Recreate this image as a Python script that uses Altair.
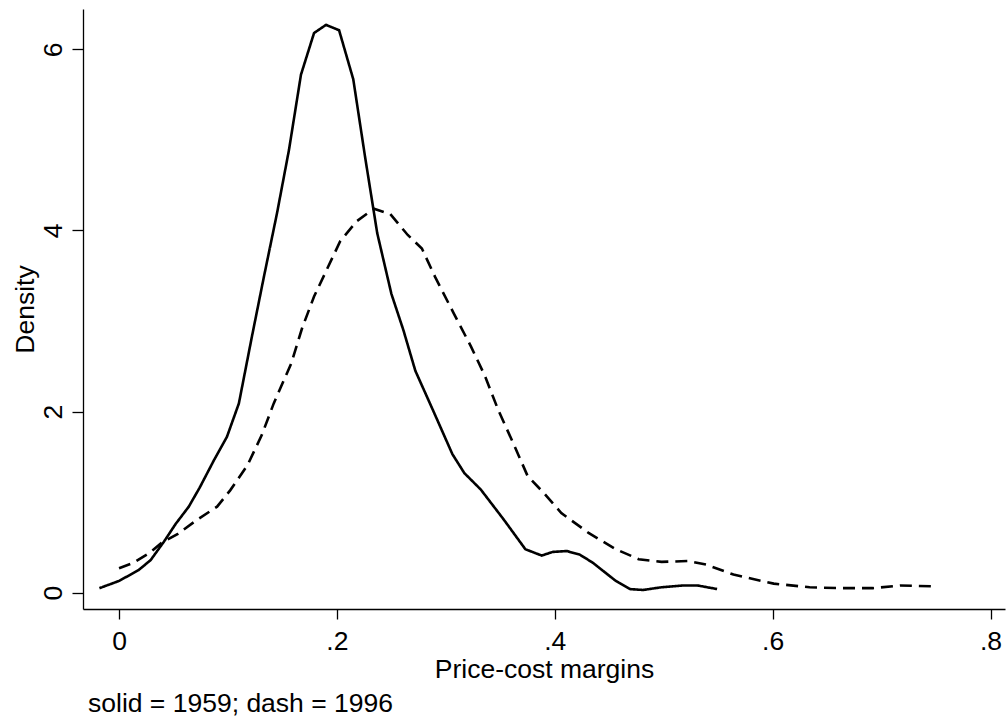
import altair as alt
import pandas as pd

# ---- data ----
x_1959 = [-0.018, 0.0, 0.018, 0.029, 0.041, 0.052, 0.064, 0.074, 0.087, 0.099, 0.110,
          0.122, 0.133, 0.145, 0.156, 0.167, 0.179, 0.190, 0.202, 0.215, 0.226, 0.237,
          0.250, 0.261, 0.272, 0.288, 0.306, 0.317, 0.332, 0.353, 0.373, 0.388, 0.398,
          0.411, 0.423, 0.435, 0.456, 0.469, 0.481, 0.498, 0.518, 0.531, 0.549]
y_1959 = [0.05, 0.13, 0.25, 0.36, 0.56, 0.76, 0.95, 1.16, 1.46, 1.72, 2.09,
          2.83, 3.49, 4.19, 4.89, 5.72, 6.18, 6.27, 6.21, 5.67, 4.80, 3.97,
          3.30, 2.90, 2.45, 2.02, 1.53, 1.32, 1.14, 0.81, 0.48, 0.41, 0.45,
          0.46, 0.42, 0.33, 0.13, 0.04, 0.03, 0.06, 0.08, 0.08, 0.04]

x_1996 = [0.0, 0.013, 0.028, 0.039, 0.054, 0.071, 0.090, 0.102, 0.118, 0.131, 0.142,
          0.158, 0.168, 0.179, 0.190, 0.203, 0.218, 0.234, 0.249, 0.265, 0.278, 0.290,
          0.307, 0.323, 0.336, 0.348, 0.363, 0.375, 0.390, 0.406, 0.431, 0.456, 0.477,
          0.498, 0.522, 0.539, 0.564, 0.601, 0.634, 0.663, 0.692, 0.717, 0.750]
y_1996 = [0.27, 0.33, 0.44, 0.55, 0.65, 0.80, 0.95, 1.13, 1.41, 1.74, 2.09,
          2.53, 2.92, 3.27, 3.55, 3.88, 4.10, 4.24, 4.18, 3.95, 3.80, 3.49,
          3.09, 2.72, 2.39, 2.02, 1.62, 1.29, 1.10, 0.88, 0.66, 0.48, 0.37,
          0.34, 0.35, 0.31, 0.20, 0.10, 0.06, 0.05, 0.05, 0.08, 0.07]

series_names = ["1959", "1996"]
x_tick_values = [0, 0.2, 0.4, 0.6, 0.8]
x_tick_labels = ["0", ".2", ".4", ".6", ".8"]
y_tick_values = [0, 2, 4, 6]
y_tick_labels = ["0", "2", "4", "6"]
x_title = "Price-cost margins"
y_title = "Density"
note_text = ["solid = 1959; dash = 1996"]

FONT = "Liberation Sans"
FS = 26.5

rows = []
for i, (xs, ys) in enumerate([(x_1959, y_1959), (x_1996, y_1996)]):
    for j, (a, b) in enumerate(zip(xs, ys)):
        rows.append({"x": a, "y": b, "series": series_names[i], "order": j})
df = pd.DataFrame(rows)


def label_expr(values, labels):
    parts = [f"datum.value == {v} ? '{l}'" for v, l in zip(values, labels)]
    return " : ".join(parts) + " : ''"


x_axis = alt.Axis(
    values=x_tick_values, labelExpr=label_expr(x_tick_values, x_tick_labels),
    title=x_title, grid=False, domainColor="black", domainWidth=1.3,
    tickColor="black", tickWidth=1.3, tickSize=10, labelFont=FONT, labelFontSize=FS,
    labelColor="black", labelBaseline="alphabetic", labelPadding=30, labelFlush=False,
    titleFont=FONT, titleFontSize=FS, titleFontWeight="normal", titleColor="black",
    titleY=68, titleBaseline="alphabetic",
)
y_axis = alt.Axis(
    values=y_tick_values, labelExpr=label_expr(y_tick_values, y_tick_labels),
    title=y_title, grid=False, domainColor="black", domainWidth=1.3,
    tickColor="black", tickWidth=1.3, tickSize=11, labelFont=FONT, labelFontSize=FS,
    labelColor="black", labelAngle=270, labelAlign="center", labelBaseline="alphabetic",
    labelPadding=11, labelFlush=False, titleFont=FONT, titleFontSize=FS,
    titleFontWeight="normal", titleColor="black", titleX=-50, titleY=300,
    titleBaseline="alphabetic", titleAngle=270, titleAlign="center",
)

lines = alt.Chart(df).mark_line(color="black", strokeWidth=2.6).encode(
    x=alt.X("x:Q", axis=x_axis, scale=alt.Scale(domain=[-0.0331, 0.8133], nice=False, zero=False)),
    y=alt.Y("y:Q", axis=y_axis, scale=alt.Scale(domain=[-0.18, 6.445], nice=False, zero=False)),
    strokeDash=alt.StrokeDash("series:N", scale=alt.Scale(domain=series_names, range=[[1, 0], [12, 7]]), legend=None),
    detail="series:N",
    order="order:Q",
)

note = alt.Chart(pd.DataFrame({"t": note_text})).mark_text(
    font=FONT, fontSize=FS, align="left", baseline="alphabetic", color="black"
).encode(text="t:N", x=alt.value(5), y=alt.value(703))

chart = alt.layer(lines, note).properties(
    width=922, height=600,
    padding={"left": 83, "top": 9, "right": 3, "bottom": 112},
    autosize=alt.AutoSizeParams(type="none"),
).configure(background="white", view=alt.ViewConfig(stroke=None))

chart.save("out.html", embed_options={"renderer": "svg", "actions": False})
